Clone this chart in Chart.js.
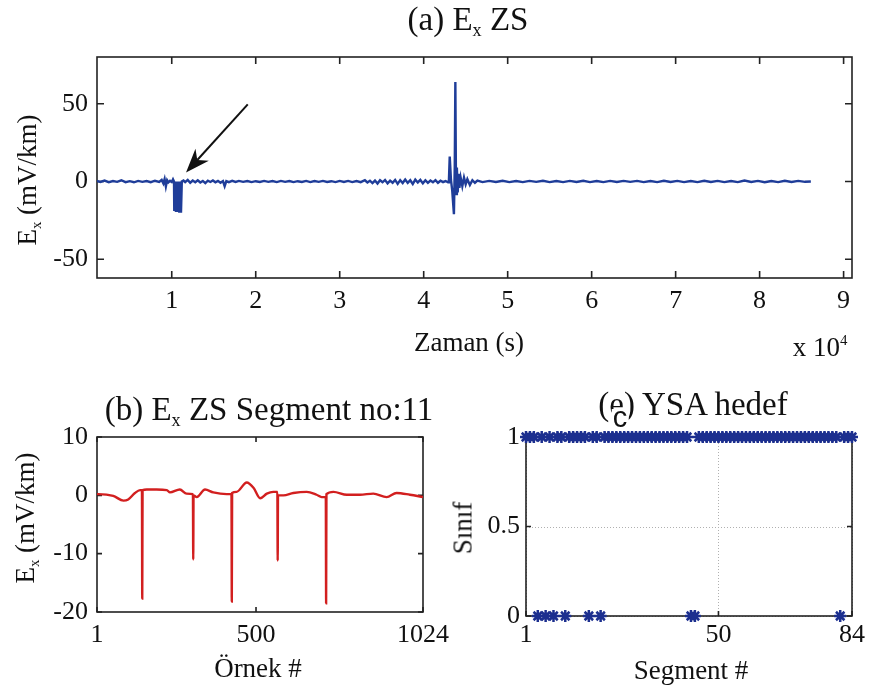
<!DOCTYPE html>
<html lang="tr">
<head>
<meta charset="UTF-8">
<title>Ex ZS - YSA hedef</title>
<style>
  body { margin: 0; background: #fff; }
  #page { position: relative; width: 869px; height: 692px; overflow: hidden;
          font-family: "Liberation Serif", "Times New Roman", serif; color: #111; }
  canvas { position: absolute; left: 0; top: 0; }
  .lbl { position: absolute; white-space: nowrap; line-height: 1; transform: translate(-50%, -50%); }
  .rot { transform: translate(-50%, -50%) rotate(-90deg); }
  .title { font-size: 33px; }
  .axis { font-size: 27px; }
  sub { font-size: 55%; position: relative; top: 0.35em; vertical-align: baseline; }
  sup { font-size: 55%; position: relative; top: -0.75em; vertical-align: baseline; }
  #cfix { font-family: "Liberation Sans", Arial, sans-serif; font-size: 29px; line-height: 0.62;
          background: #fff; padding: 0 1px; }
</style>
<script src="https://cdn.jsdelivr.net/npm/chart.js"></script>
</head>
<body>
<div id="page">
  <canvas id="cA" width="869" height="692"></canvas>
  <canvas id="cB" width="869" height="692"></canvas>
  <canvas id="cC" width="869" height="692"></canvas>

  <div class="lbl title" style="left:468px; top:19px;">(a) E<sub>x</sub> ZS</div>
  <div class="lbl axis rot" style="left:27px; top:180px;">E<sub>x</sub> (mV/km)</div>
  <div class="lbl axis" style="left:469px; top:342px;">Zaman (s)</div>
  <div class="lbl axis" style="left:820px; top:347px;">x 10<sup>4</sup></div>

  <div class="lbl title" style="left:269px; top:409px;">(b) E<sub>x</sub> ZS Segment no:11</div>
  <div class="lbl axis rot" style="left:25px; top:518px;">E<sub>x</sub> (mV/km)</div>
  <div class="lbl axis" style="left:258px; top:668px;">Örnek #</div>

  <div class="lbl title" style="left:693px; top:404px;">(e) YSA hedef</div>
  <div class="lbl" id="cfix" style="left:620px; top:418px;">c</div>
  <div class="lbl axis rot" style="left:463px; top:528px;">Sınıf</div>
  <div class="lbl axis" style="left:691px; top:670px;">Segment #</div>
</div>

<script>
  // (a) whole day record, time in seconds
  const zamanA = [
    0, 500, 1000, 1500, 2000, 2500, 3000, 3500, 4000, 4500,
    5000, 5500, 6000, 6500, 7000, 7500, 8000, 8500, 8800, 9000,
    9150, 9300, 9450, 9600, 9800, 10000, 10150, 10270, 10300, 10400,
    10500, 10600, 10700, 10800, 10900, 11000, 11100, 11200, 11400, 11600,
    11900, 12200, 12500, 12800, 13100, 13400, 13700, 14000, 14300, 14600,
    14900, 15200, 15500, 15800, 16100, 16300, 16500, 16800, 17200, 17600,
    18000, 18500, 19000, 19500, 20000, 20500, 21000, 21500, 22000, 22500,
    23000, 23500, 24000, 24500, 25000, 25500, 26000, 26500, 27000, 27500,
    28000, 28500, 29000, 29500, 30000, 30500, 31000, 31500, 32000, 32500,
    33000, 33300, 33600, 33900, 34200, 34500, 34800, 35100, 35400, 35700,
    36000, 36300, 36600, 36900, 37200, 37500, 37800, 38100, 38400, 38700,
    39000, 39300, 39600, 39900, 40200, 40500, 40800, 41100, 41400, 41700,
    42000, 42300, 42600, 42900, 43000, 43100, 43250, 43400, 43600, 43700,
    43770, 43850, 43950, 44050, 44150, 44250, 44400, 44600, 44800, 45000,
    45200, 45500, 45800, 46100, 46400, 47000, 47800, 48600, 49400, 50200,
    51000, 51800, 52600, 53400, 54200, 55000, 55800, 56600, 57400, 58200,
    59000, 59800, 60600, 61400, 62200, 63000, 63800, 64600, 65400, 66200,
    67000, 67800, 68600, 69400, 70200, 71000, 71800, 72600, 73400, 74200,
    75000, 75800, 76600, 77400, 78200, 79000, 79800, 80600, 81400, 82200,
    83000, 83800, 84600, 85400, 86100
  ];
  const exA = [
    0.3, -0.4, 0.5, -0.3, 0.6, -0.4, 0.3, -0.2, 0.8, -0.4,
    0.2, -0.5, 0.4, -0.2, 0.3, -0.4, 0.5, -0.3, 1.0, -1.2,
    1.6, -3.2, 0.8, -0.6, 0.4, -0.3, 1.4, 0, -19, 0,
    -19.5, 0, -19.5, 0, -20, 0, -20, 0, 0.6, -0.4,
    1.0, -0.8, 0.6, -0.5, 0.8, -0.6, 0.4, -1.0, 0.5, -0.3,
    0.7, -0.5, 0.4, -0.8, 0.3, -3.0, 0.3, -0.4, 0.4, -0.3,
    0.4, -0.2, 0.3, -0.4, 0.2, -0.3, 0.4, -0.2, 0.3, -0.4,
    0.4, -0.2, 0.3, -0.4, 0.2, -0.3, 0.4, -0.4, 0.3, -0.2,
    0.4, -0.3, 0.2, -0.4, 0.4, -0.3, 0.4, -0.4, 0.3, -0.4,
    0.8, -0.6, 0.5, -1.0, 0.6, -1.3, 0.8, -0.5, 1.0, -1.2,
    0.6, -0.8, 1.0, -1.5, 0.9, -1.0, 1.3, -0.9, 0.8, -1.6,
    1.2, -0.6, 1.0, -1.2, 0.8, -0.9, 0.6, -0.5, 0.9, -0.8,
    0.5, -0.4, 0.3, -0.5, 0.3, 16, 1, -6, -21, 10,
    64, -8, 9, -7, 5, -4, 2.5, -3, 2.5, -1.8,
    1.5, -2.2, 0.8, -0.8, 0.6, -0.4, 0.4, -0.3, 0.5, -0.4,
    0.3, -0.4, 0.4, -0.2, 0.5, -0.4, 0.3, -0.4, 0.4, -0.3,
    0.5, -0.4, 0.3, -0.4, 0.4, -0.3, 0.4, -0.2, 0.4, -0.4,
    0.3, -0.4, 0.5, -0.3, 0.4, -0.4, 0.3, -0.4, 0.5, -0.3,
    0.4, -0.4, 0.3, -0.4, 0.6, -0.3, 0.4, -0.5, 0.3, -0.4,
    0.5, -0.3, 0.4, -0.2, 0.0
  ];
  const ticksAx = [10000, 20000, 30000, 40000, 50000, 60000, 70000, 80000, 90000];
  const ticksAy = [-50, 0, 50];
  // arrow annotation, in data units (time s, mV/km)
  const arrowFrom = [19050, 49.6];
  const arrowTo = [11700, 5.8];

  // (b) segment 11, sample index
  const ornekB = [
    1, 5, 52, 84, 99, 120, 136, 142, 143, 144,
    157, 188, 220, 230, 261, 282, 302, 303, 304, 314,
    340, 366, 408, 423, 424, 425, 439, 471, 492, 513,
    534, 554, 567, 568, 569, 586, 617, 659, 690, 706,
    719, 720, 721, 743, 785, 826, 868, 910, 941, 983,
    1024
  ];
  const exB = [
    0.2, 0.2, -0.1, -0.9, -0.7, 0.4, 0.9, 0.9, -17.7, 0.9,
    1.0, 1.0, 0.9, 0.5, 1.0, 0.3, 0.2, -11, 0.0, -0.3,
    1.0, 0.5, 0.2, 0.2, -18.2, 0.4, 0.6, 2.2, 1.3, -0.5,
    0.3, 0.6, 0.6, -11.2, 0.0, 0.0, 0.4, 0.6, 0.1, -0.3,
    -0.3, -18.5, 0.2, 0.6, 0.1, 0.1, 0.3, -0.3, 0.4, 0.1,
    -0.3
  ];
  const ticksBx = [1, 500, 1024];
  const ticksBy = [-20, -10, 0, 10];

  // (c) ANN target per segment
  const segmentC = [
    1, 2, 3, 4, 5, 6, 7, 8, 9, 10, 11, 12, 13, 14, 15, 16, 17, 18, 19, 20, 21,
    22, 23, 24, 25, 26, 27, 28, 29, 30, 31, 32, 33, 34, 35, 36, 37, 38, 39, 40, 41, 42,
    43, 44, 45, 46, 47, 48, 49, 50, 51, 52, 53, 54, 55, 56, 57, 58, 59, 60, 61, 62, 63,
    64, 65, 66, 67, 68, 69, 70, 71, 72, 73, 74, 75, 76, 77, 78, 79, 80, 81, 82, 83, 84
  ];
  const hedefC = [
    1, 1, 1, 0, 1, 0, 1, 0, 1, 1, 0, 1, 1, 1, 1, 1, 0, 1, 1, 0, 1,
    1, 1, 1, 1, 1, 1, 1, 1, 1, 1, 1, 1, 1, 1, 1, 1, 1, 1, 1, 1, 1,
    0, 0, 1, 1, 1, 1, 1, 1, 1, 1, 1, 1, 1, 1, 1, 1, 1, 1, 1, 1, 1,
    1, 1, 1, 1, 1, 1, 1, 1, 1, 1, 1, 1, 1, 1, 1, 1, 1, 0, 1, 1, 1
  ];
  const ticksCx = [1, 50, 84];
  const ticksCy = [0, 0.5, 1];

  Chart.defaults.font.family = '"Liberation Serif", "Times New Roman", serif';
  Chart.defaults.font.size = 26;
  Chart.defaults.color = '#111';

  // box with inward ticks on all four sides, optional dotted grid
  const frame = {
    id: 'frame',
    beforeDatasetsDraw(chart, args, o) {
      const { ctx, chartArea: a, scales: { x, y } } = chart;
      ctx.save();
      if (o.grid) {
        ctx.strokeStyle = '#b0b0b0';
        ctx.lineWidth = 1;
        ctx.setLineDash([1, 2]);
        ctx.beginPath();
        x.ticks.forEach(t => {
          const p = Math.round(x.getPixelForValue(t.value)) + 0.5;
          ctx.moveTo(p, a.top); ctx.lineTo(p, a.bottom);
        });
        y.ticks.forEach(t => {
          const p = Math.round(y.getPixelForValue(t.value)) + 0.5;
          ctx.moveTo(a.left, p); ctx.lineTo(a.right, p);
        });
        ctx.stroke();
        ctx.setLineDash([]);
      }
      ctx.strokeStyle = '#222';
      ctx.lineWidth = o.width;
      ctx.beginPath();
      x.ticks.forEach(t => {
        const p = x.getPixelForValue(t.value);
        ctx.moveTo(p, a.bottom); ctx.lineTo(p, a.bottom - o.len);
        ctx.moveTo(p, a.top); ctx.lineTo(p, a.top + o.len);
      });
      y.ticks.forEach(t => {
        const p = y.getPixelForValue(t.value);
        ctx.moveTo(a.left, p); ctx.lineTo(a.left + o.len, p);
        ctx.moveTo(a.right, p); ctx.lineTo(a.right - o.len, p);
      });
      ctx.stroke();
      ctx.strokeRect(a.left, a.top, a.right - a.left, a.bottom - a.top);
      ctx.restore();
    }
  };

  const arrow = {
    id: 'arrow',
    afterDatasetsDraw(chart) {
      const { ctx, scales: { x, y } } = chart;
      const x0 = x.getPixelForValue(arrowFrom[0]), y0 = y.getPixelForValue(arrowFrom[1]);
      const x1 = x.getPixelForValue(arrowTo[0]), y1 = y.getPixelForValue(arrowTo[1]);
      const d = Math.hypot(x1 - x0, y1 - y0);
      const ux = (x1 - x0) / d, uy = (y1 - y0) / d;
      const nx = -uy, ny = ux;
      const L = 24, W = 9;
      ctx.save();
      ctx.strokeStyle = '#111';
      ctx.fillStyle = '#111';
      ctx.lineWidth = 2;
      ctx.beginPath();
      ctx.moveTo(x0, y0);
      ctx.lineTo(x1 - ux * L * 0.7, y1 - uy * L * 0.7);
      ctx.stroke();
      ctx.beginPath();
      ctx.moveTo(x1, y1);
      ctx.lineTo(x1 - ux * L + nx * W, y1 - uy * L + ny * W);
      ctx.lineTo(x1 - ux * L * 0.7, y1 - uy * L * 0.7);
      ctx.lineTo(x1 - ux * L - nx * W, y1 - uy * L - ny * W);
      ctx.closePath();
      ctx.fill();
      ctx.restore();
    }
  };

  function axis(min, max, tickVals, pad, fit, fmt) {
    return {
      type: 'linear', min, max,
      grid: { display: false, drawTicks: false },
      border: { display: false },
      afterBuildTicks: s => { s.ticks = tickVals.map(v => ({ value: v })); },
      ticks: { padding: pad, maxRotation: 0, autoSkip: false, callback: fmt || (v => String(v)) },
      afterFit: fit
    };
  }

  const base = {
    responsive: false,
    animation: false,
    devicePixelRatio: 1,
    events: []
  };

  // (a)
  new Chart(document.getElementById('cA'), {
    type: 'scatter',
    data: {
      datasets: [{
        data: zamanA.map((t, i) => ({ x: t, y: exA[i] })),
        showLine: true, borderColor: '#1f3d99', borderWidth: 2.4,
        pointRadius: 0, tension: 0
      }]
    },
    options: Object.assign({}, base, {
      layout: { padding: { top: 57, right: 17, bottom: 0, left: 0 } },
      plugins: { legend: { display: false }, tooltip: { enabled: false }, frame: { len: 7, width: 1.6 } },
      scales: {
        x: axis(1100, 91000, ticksAx, 8, s => { s.height = 692 - 278; }, v => String(v / 10000)),
        y: axis(-62, 80, ticksAy, 9, s => { s.width = 97; })
      }
    }),
    plugins: [frame, arrow]
  });

  // (b)
  new Chart(document.getElementById('cB'), {
    type: 'scatter',
    data: {
      datasets: [{
        data: ornekB.map((n, i) => ({ x: n, y: exB[i] })),
        showLine: true, borderColor: '#d21f1f', borderWidth: 2.4,
        pointRadius: 0, cubicInterpolationMode: 'monotone'
      }]
    },
    options: Object.assign({}, base, {
      layout: { padding: { top: 437, right: 446, bottom: 0, left: 0 } },
      plugins: { legend: { display: false }, tooltip: { enabled: false }, frame: { len: 5, width: 1.6 } },
      scales: {
        x: axis(1, 1024, ticksBx, 8, s => { s.height = 692 - 612; }),
        y: axis(-20, 10, ticksBy, 9, s => { s.width = 97; })
      }
    }),
    plugins: [frame]
  });

  // (c)
  new Chart(document.getElementById('cC'), {
    type: 'scatter',
    data: {
      datasets: [{
        data: segmentC.map((s, i) => ({ x: s, y: hedefC[i] })),
        showLine: false, pointStyle: 'star', pointRadius: 6,
        borderColor: '#1c2f8f', backgroundColor: '#1c2f8f', borderWidth: 2.5,
        clip: false
      }]
    },
    options: Object.assign({}, base, {
      layout: { padding: { top: 437, right: 16, bottom: 0, left: 0 } },
      plugins: { legend: { display: false }, tooltip: { enabled: false }, frame: { len: 5, width: 1.6, grid: true } },
      scales: {
        x: axis(1, 84, ticksCx, 4, s => { s.height = 692 - 616; }),
        y: axis(0, 1, ticksCy, 6, s => { s.width = 526; })
      }
    }),
    plugins: [frame]
  });
</script>
</body>
</html>
